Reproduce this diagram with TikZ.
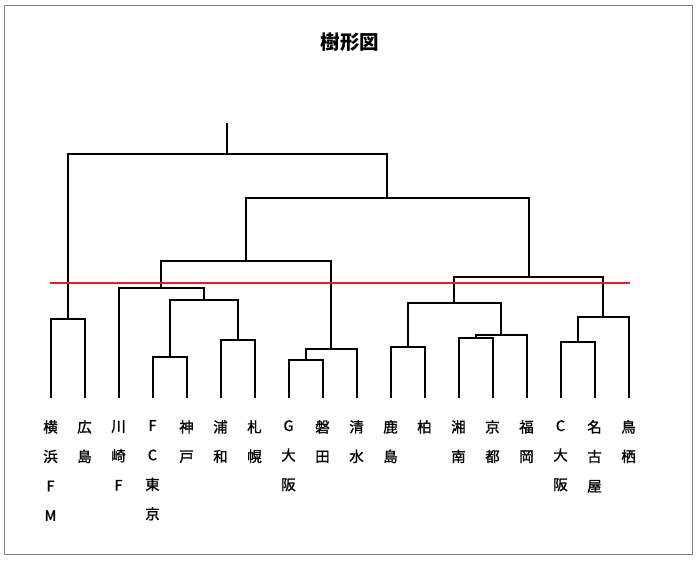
\documentclass[tikz,border=0pt]{standalone}
\usepackage{fontspec}
\setmainfont{Noto Sans CJK JP}
\newfontfamily\labfont[FakeBold=1.2]{Noto Sans CJK JP}
\definecolor{cutred}{RGB}{206,40,40}
\definecolor{framegray}{RGB}{128,128,128}
\begin{document}
\begin{tikzpicture}[x=1pt,y=-1pt,
  tree/.style={line width=2pt,black},
  lab/.style={anchor=north,inner sep=0pt,align=center,font=\labfont\fontsize{14.5}{29.5}\selectfont},
  cut/.style={line width=1.8pt,cutred}]
\useasboundingbox (0,0) rectangle (700,560);
\draw[framegray,line width=1.2pt] (4.7,5.7) rectangle (692.3,554.3);
\node[font=\fontsize{19.5}{22}\selectfont\bfseries] (title) at (350,42) {樹形図};
% leaves
\foreach \i in {1,...,18}{
  \coordinate (l\i) at ({50.5+34*(\i-1)},398);
}
% labels
\node[lab] (t1) at (50.5,420) {横\\浜\\F\\M};
\node[lab] (t2) at (84.5,420) {広\\島};
\node[lab] (t3) at (118.5,420) {川\\崎\\F};
\node[lab] (t4) at (152.5,420) {F\\C\\東\\京};
\node[lab] (t5) at (186.5,420) {神\\戸};
\node[lab] (t6) at (220.5,420) {浦\\和};
\node[lab] (t7) at (254.5,420) {札\\幌};
\node[lab] (t8) at (288.5,420) {G\\大\\阪};
\node[lab] (t9) at (322.5,420) {磐\\田};
\node[lab] (t10) at (356.5,420) {清\\水};
\node[lab] (t11) at (390.5,420) {鹿\\島};
\node[lab] (t12) at (424.5,420) {柏};
\node[lab] (t13) at (458.5,420) {湘\\南};
\node[lab] (t14) at (492.5,420) {京\\都};
\node[lab] (t15) at (526.5,420) {福\\岡};
\node[lab] (t16) at (560.5,420) {C\\大\\阪};
\node[lab] (t17) at (594.5,420) {名\\古\\屋};
\node[lab] (t18) at (628.5,420) {鳥\\栖};
% merge points
\coordinate (m1) at (67.5,319);
\coordinate (m2) at (169.5,357);
\coordinate (m3) at (237.5,340);
\coordinate (m4) at (203.5,300);
\coordinate (m5) at (161,288);
\coordinate (m6) at (305.5,360);
\coordinate (m7) at (331,349);
\coordinate (m8) at (246,261);
\coordinate (m9) at (407.5,347);
\coordinate (m10) at (475.5,338);
\coordinate (m11) at (501,335);
\coordinate (m12) at (454.25,303);
\coordinate (m13) at (577.5,342);
\coordinate (m14) at (603,317);
\coordinate (m15) at (528.6,277);
\coordinate (m16) at (387.3,198);
\coordinate (m17) at (227.4,154);
\coordinate (root) at (227.4,123);
% dendrogram
\draw[tree] (l1) |- (m1) -| (l2);
\draw[tree] (l4) |- (m2) -| (l5);
\draw[tree] (l6) |- (m3) -| (l7);
\draw[tree] (m2) |- (m4) -| (m3);
\draw[tree] (l3) |- (m5) -| (m4);
\draw[tree] (l8) |- (m6) -| (l9);
\draw[tree] (m6) |- (m7) -| (l10);
\draw[tree] (m5) |- (m8) -| (m7);
\draw[tree] (l11) |- (m9) -| (l12);
\draw[tree] (l13) |- (m10) -| (l14);
\draw[tree] (m10) |- (m11) -| (l15);
\draw[tree] (m9) |- (m12) -| (m11);
\draw[tree] (l16) |- (m13) -| (l17);
\draw[tree] (m13) |- (m14) -| (l18);
\draw[tree] (m12) |- (m15) -| (m14);
\draw[tree] (m8) |- (m16) -| (m15);
\draw[tree] (m1) |- (m17) -| (m16);
\draw[tree] (m17) -- (root);
% cut line
\coordinate (c1) at (50,282.7);
\coordinate (c2) at (630,282.7);
\draw[cut] (c1) -- (c2);
\end{tikzpicture}
\end{document}
